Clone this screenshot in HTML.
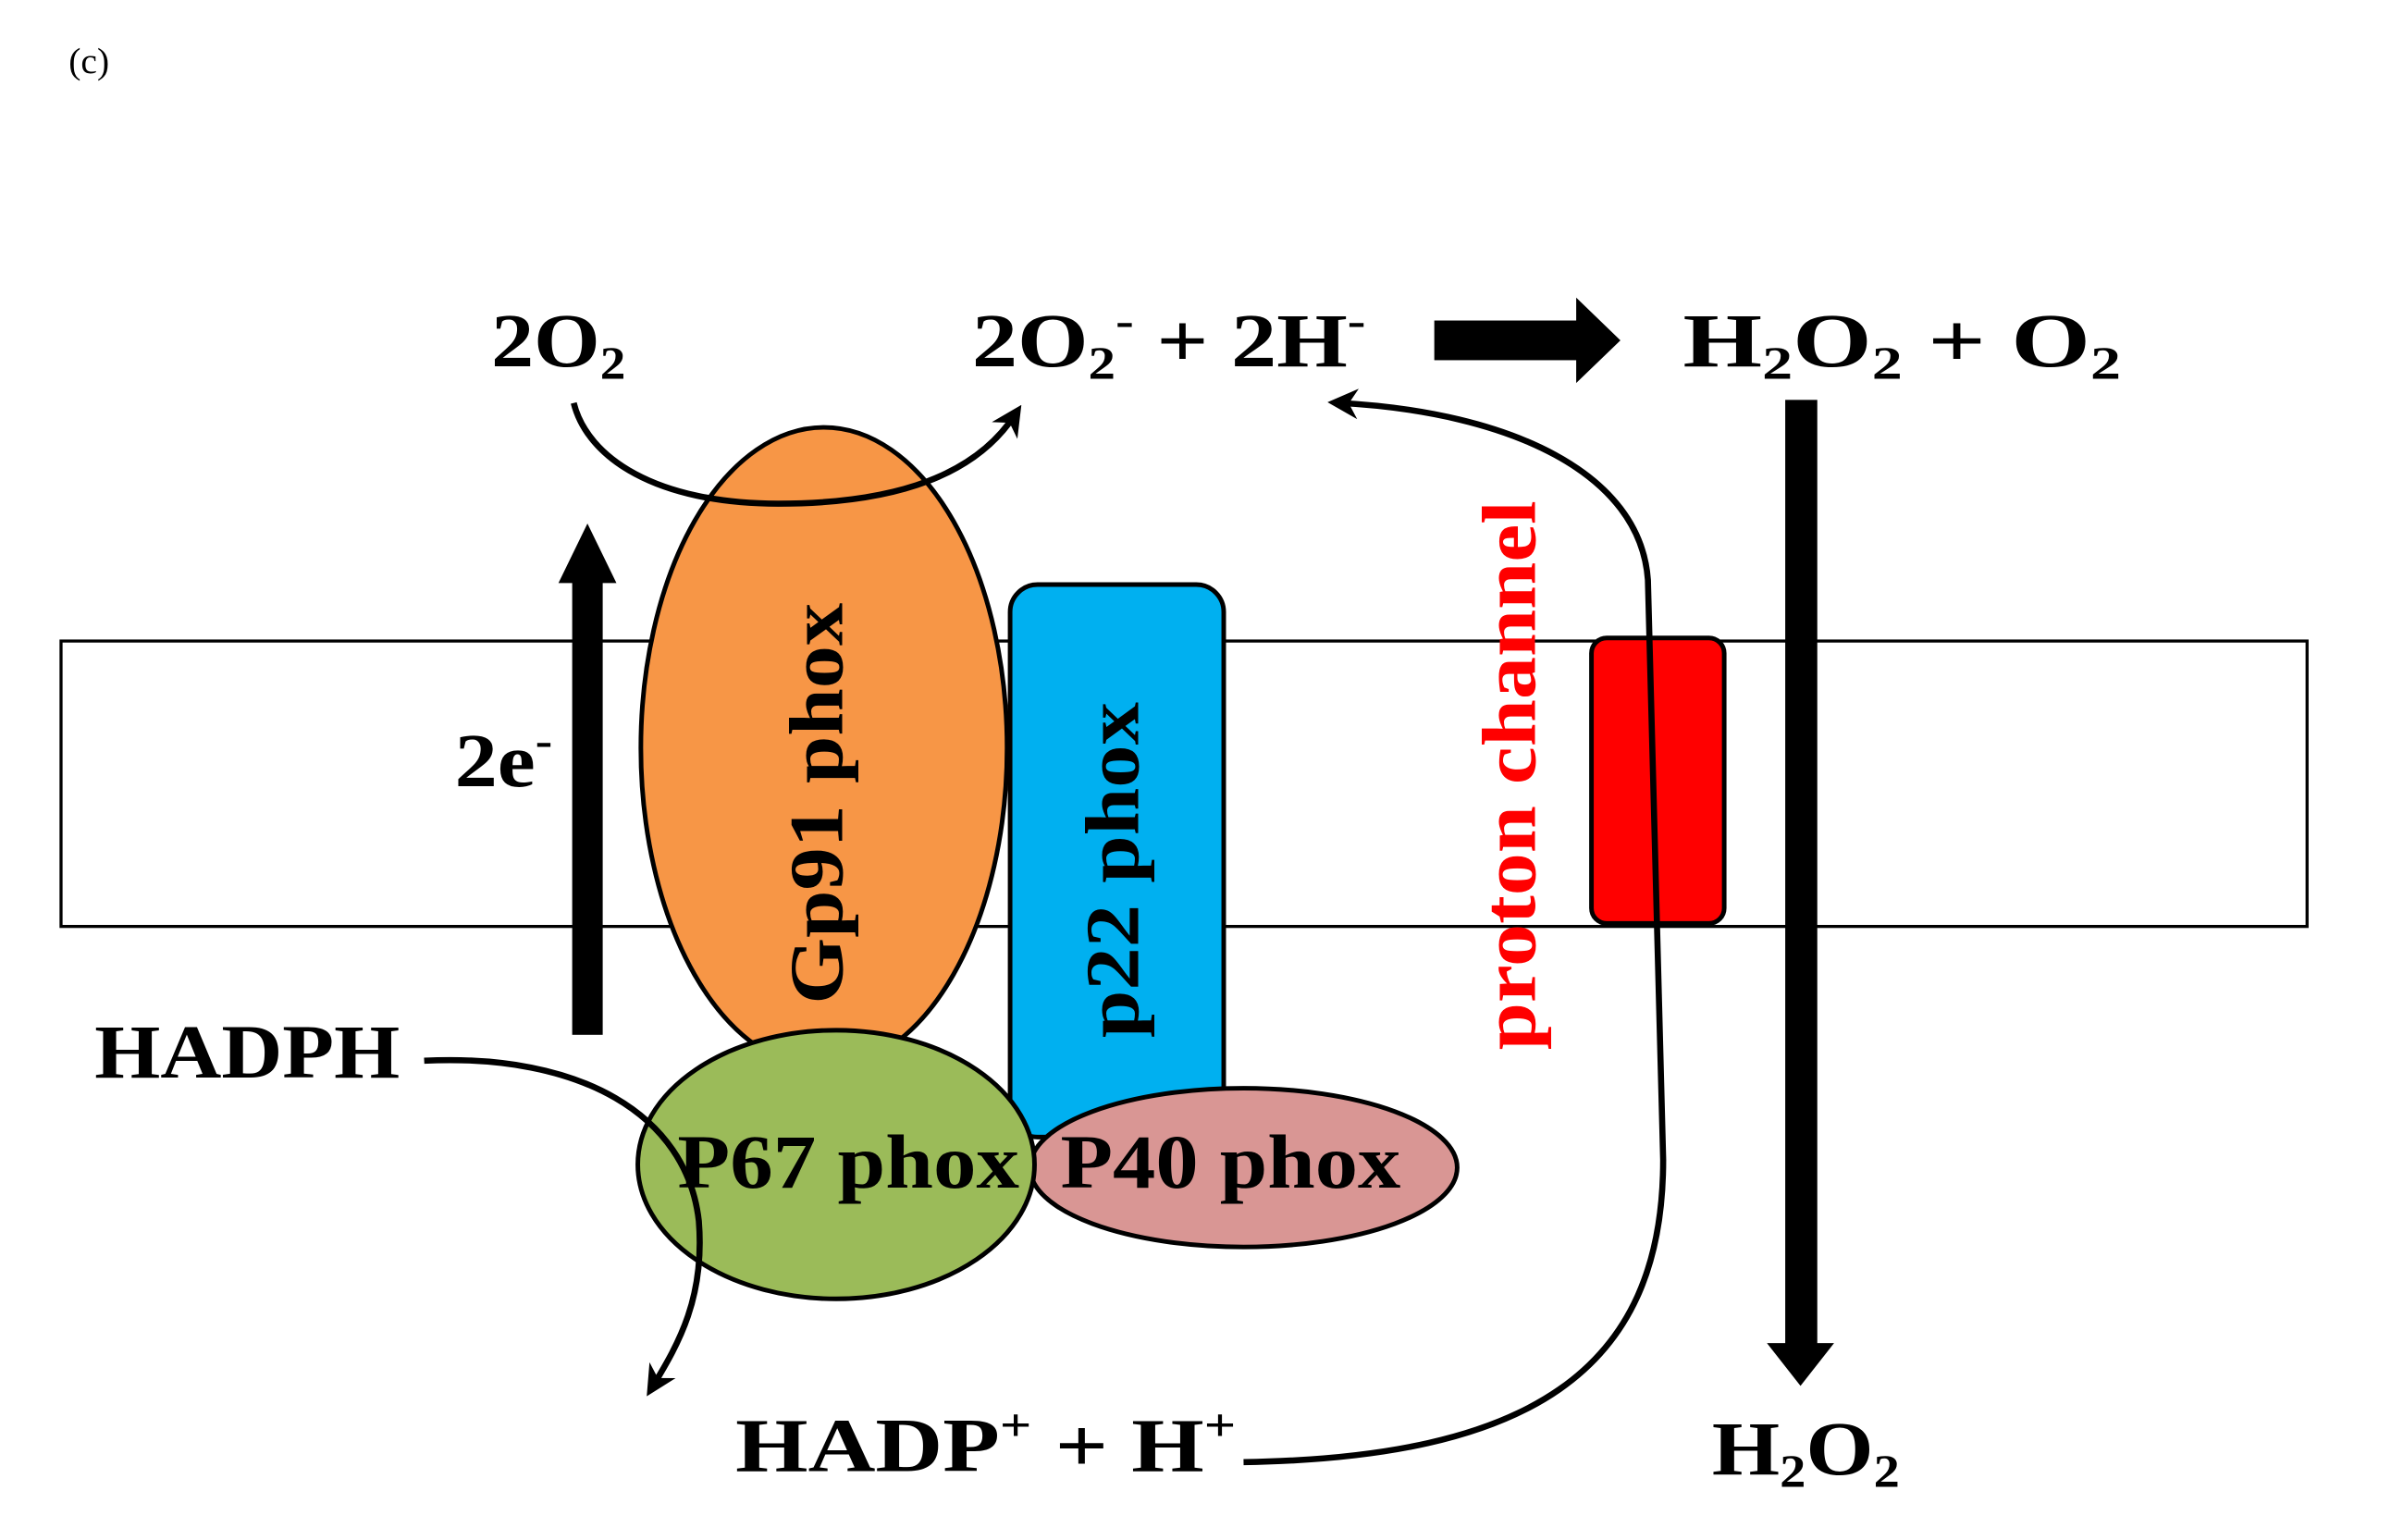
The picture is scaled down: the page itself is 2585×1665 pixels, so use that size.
<!DOCTYPE html>
<html><head><style>html,body{margin:0;padding:0;background:#fff}svg{display:block}</style></head><body>
<svg width="2585" height="1665" viewBox="0 0 1567 1009" preserveAspectRatio="none" xmlns="http://www.w3.org/2000/svg" font-family="Liberation Serif, serif">
<defs>
<marker id="ah" viewBox="0 0 10 10" refX="6" refY="5" markerWidth="5" markerHeight="5" orient="auto"><path d="M0,0 L10,5 L0,10 L3,5 z" fill="#000"/></marker>
</defs>
<rect width="1567" height="1009" fill="#fff"/>
<text x="45" y="48" font-size="24">(c)</text>
<rect x="40" y="420" width="1472" height="187" fill="none" stroke="#000" stroke-width="2"/>
<rect x="375" y="380" width="20" height="298" fill="#000"/>
<polygon points="366,382 385,343 404,382" fill="#000"/>
<rect x="1170" y="262" width="21" height="620" fill="#000"/>
<polygon points="1158,880 1180,908 1202,880" fill="#000"/>
<rect x="940" y="210" width="95" height="26" fill="#000"/>
<polygon points="1033,195 1062,223 1033,251" fill="#000"/>
<ellipse cx="540" cy="490" rx="120" ry="210" fill="#F79646" stroke="#000" stroke-width="3"/>
<rect x="662" y="383" width="140" height="362" rx="18" fill="#00B0F0" stroke="#000" stroke-width="3"/>
<ellipse cx="815" cy="765" rx="140" ry="52" fill="#D99694" stroke="#000" stroke-width="3"/>
<ellipse cx="548" cy="763" rx="130" ry="88" fill="#9BBB59" stroke="#000" stroke-width="3"/>
<rect x="1043" y="418" width="87" height="187" rx="10" fill="#FF0000" stroke="#000" stroke-width="3"/>
<path d="M376,264 C385,300 430,330 510,330 C590,330 640,310 665,272" fill="none" stroke="#000" stroke-width="4" marker-end="url(#ah)"/>
<path d="M815,958 C1000,955 1090,900 1090,760 L1080,380 C1075,310 990,270 878,264" fill="none" stroke="#000" stroke-width="4" marker-end="url(#ah)"/>
<path d="M278,695 C380,690 450,730 458,800 C462,850 445,880 428,908" fill="none" stroke="#000" stroke-width="4" marker-end="url(#ah)"/>
<g font-weight="bold" font-size="50" fill="#000">
<text x="322" y="240" textLength="88" lengthAdjust="spacingAndGlyphs">2O<tspan font-size="30" dy="8">2</tspan></text>
<text x="637" y="240" textLength="258" lengthAdjust="spacingAndGlyphs">2O<tspan font-size="30" dy="8">2</tspan><tspan font-size="30" dy="-28">-</tspan><tspan dy="20"> +  2H</tspan><tspan font-size="30" dy="-20">-</tspan></text>
<text x="1103" y="240" textLength="287" lengthAdjust="spacingAndGlyphs">H<tspan font-size="30" dy="8">2</tspan><tspan dy="-8">O</tspan><tspan font-size="30" dy="8">2</tspan><tspan dy="-8">  +  O</tspan><tspan font-size="30" dy="8">2</tspan></text>
<text x="298" y="515" textLength="64" lengthAdjust="spacingAndGlyphs">2e<tspan font-size="30" dy="-20">-</tspan></text>
<text x="62" y="706" textLength="200" lengthAdjust="spacingAndGlyphs">HADPH</text>
<text x="482" y="964" textLength="328" lengthAdjust="spacingAndGlyphs">HADP<tspan font-size="30" dy="-20">+</tspan><tspan dy="20">  +  H</tspan><tspan font-size="30" dy="-20">+</tspan></text>
<text x="1122" y="966" textLength="123" lengthAdjust="spacingAndGlyphs">H<tspan font-size="30" dy="8">2</tspan><tspan dy="-8">O</tspan><tspan font-size="30" dy="8">2</tspan></text>
<text x="444" y="778" textLength="224" lengthAdjust="spacingAndGlyphs">P67 phox</text>
<text x="695" y="778" textLength="223" lengthAdjust="spacingAndGlyphs">P40 phox</text>
<text transform="translate(552,658) rotate(-90)" textLength="263" lengthAdjust="spacingAndGlyphs">Gp91 phox</text>
<text transform="translate(746,680) rotate(-90)" textLength="220" lengthAdjust="spacingAndGlyphs">p22 phox</text>
<text transform="translate(1006,688) rotate(-90)" textLength="360" lengthAdjust="spacingAndGlyphs" fill="#FF0000">proton channel</text>
</g>
</svg>
</body></html>
